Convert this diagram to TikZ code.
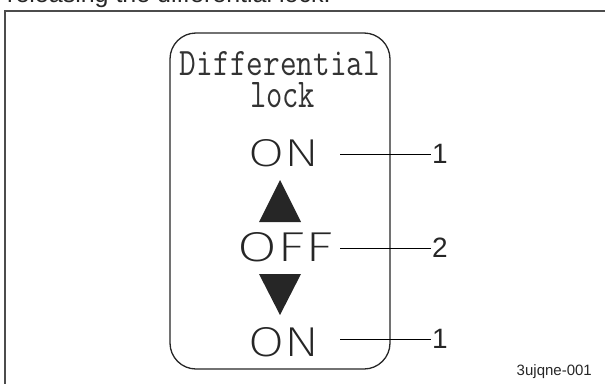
\documentclass[tikz,border=0pt]{standalone}
\usepackage{fontspec}
\setmainfont{Liberation Sans}
\newfontfamily\thinfont{Fira Sans ExtraLight}
\newfontfamily\labelfont{Liberation Sans}
\begin{document}
\begin{tikzpicture}[x=1pt,y=-1pt,
  frame/.style={draw=black!70,line width=1.4pt},
  panel/.style={draw=black!85,line width=1.3pt,rounded corners=26pt},
  leader/.style={draw=black,line width=0.9pt},
  numlabel/.style={font=\labelfont\fontsize{28}{29}\selectfont,text=black!85,inner sep=1pt,anchor=west},
  state/.style={inner sep=0pt,text=black!85},
  arrowtri/.style={fill=black!85,draw=none},
  title/.style={inner sep=0pt,text=black!80}]
\useasboundingbox (0,0) rectangle (605,383);
\clip (0,0) rectangle (605,383);
% partially visible caption at top
\node[anchor=base west,inner sep=0pt,text=black!85,font=\labelfont\fontsize{25}{26}\selectfont] (cap) at (7,2) {releasing the differential lock.};
% outer frame
\draw[frame] (5,384) -- (5,11) -- (606,11);
% panel
\draw[panel] (170,33) rectangle (390,369);
% title
\node[title,anchor=base] (t1) at (280,75) {\resizebox{200pt}{24pt}{\fontsize{30}{30}\fontseries{l}\selectfont\ttfamily Differential}};
\node[title,anchor=base] (t2) at (282.5,107) {\resizebox{65pt}{25pt}{\fontsize{30}{30}\fontseries{l}\selectfont\ttfamily lock}};
% states
\node[state] (on1) at (283.5,153.5) {\resizebox{71pt}{27pt}{\fontsize{30}{30}\selectfont\thinfont ON}};
\node[state] (off) at (285.5,247.5) {\resizebox{95pt}{29pt}{\fontsize{30}{30}\selectfont\thinfont OFF}};
\node[state] (on2) at (283.5,342) {\resizebox{71pt}{29pt}{\fontsize{30}{30}\selectfont\thinfont ON}};
% triangles
\fill[arrowtri] (280,180) -- (301,222) -- (259,222) -- cycle;
\fill[arrowtri] (259,274) -- (301,274) -- (280,315) -- cycle;
% labels
\node[numlabel] (l1) at (431,154) {1};
\node[numlabel] (l2) at (431,248) {2};
\node[numlabel] (l3) at (431,339) {1};
\coordinate (c1) at (340,154);
\coordinate (c2) at (340,248);
\coordinate (c3) at (340,339);
\draw[leader] (c1) -- (l1.west);
\draw[leader] (c2) -- (l2.west);
\draw[leader] (c3) -- (l3.west);
% code
\node[anchor=base east,inner sep=0pt,text=black!85,font=\labelfont\fontsize{15}{16}\selectfont] (code) at (592,375) {3ujqne-001};
\end{tikzpicture}
\end{document}
